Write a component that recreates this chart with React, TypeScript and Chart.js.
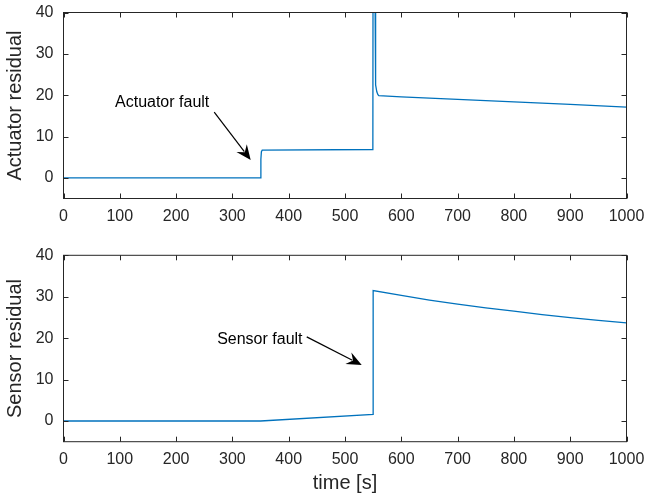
import React, { useEffect, useRef } from "react";
import { Chart, registerables } from "chart.js";
Chart.register(...registerables);

const FONT = '"Liberation Sans", Arial, Helvetica, sans-serif';
const AXIS = "#262626";
const LINE = "#0072BD";

const xTicks = [0, 100, 200, 300, 400, 500, 600, 700, 800, 900, 1000];
const yTicks = [0, 10, 20, 30, 40];

const actTime = [0, 350, 350.6, 351.5, 353, 549.5, 550, 553.3, 553.8, 554.3, 555, 556.5, 558.5, 560, 600, 700, 800, 900, 1000];
const actValue = [0, 0, 4.5, 6.3, 6.7, 6.85, 80, 45, 35, 26, 22.5, 20.8, 20.1, 19.9, 19.6, 19.0, 18.4, 17.75, 17.1];

const sensTime = [0, 350, 550, 550, 600, 650, 700, 750, 800, 850, 900, 950, 1000];
const sensValue = [0, 0, 1.6, 31.5, 30.3, 29.2, 28.2, 27.3, 26.5, 25.7, 24.95, 24.3, 23.7];

const actNote = "Actuator fault";
const actNotePos = [91.5, 18.1];
const actArrow = [[267.7, 15.9], [332.5, 4.3]];

const sensNote = "Sensor fault";
const sensNotePos = [272.9, 19.7];
const sensArrow = [[432, 20.3], [529.7, 13.5]];

function makePlugin(note: string, pos: number[], arrow: number[][]) {
  return {
    id: "boxAndNotes",
    afterDraw(chart: any) {
      const ctx = chart.ctx;
      const { left, right, top, bottom } = chart.chartArea;
      const xs = chart.scales.x;
      const ys = chart.scales.y;
      ctx.save();
      ctx.strokeStyle = AXIS;
      ctx.lineWidth = 1;
      ctx.strokeRect(left, top, right - left, bottom - top);
      const tl = 5;
      ctx.beginPath();
      for (const v of xTicks) {
        const px = Math.round(xs.getPixelForValue(v)) + 0.5;
        ctx.moveTo(px, bottom);
        ctx.lineTo(px, bottom - tl);
        ctx.moveTo(px, top);
        ctx.lineTo(px, top + tl);
      }
      for (const v of yTicks) {
        const py = Math.round(ys.getPixelForValue(v)) + 0.5;
        ctx.moveTo(left, py);
        ctx.lineTo(left + tl, py);
        ctx.moveTo(right, py);
        ctx.lineTo(right - tl, py);
      }
      ctx.stroke();

      // annotation
      ctx.fillStyle = "#000";
      ctx.font = `16px ${FONT}`;
      ctx.textAlign = "left";
      ctx.textBaseline = "middle";
      ctx.fillText(note, xs.getPixelForValue(pos[0]), ys.getPixelForValue(pos[1]));
      const x0 = xs.getPixelForValue(arrow[0][0]);
      const y0 = ys.getPixelForValue(arrow[0][1]);
      const x1 = xs.getPixelForValue(arrow[1][0]);
      const y1 = ys.getPixelForValue(arrow[1][1]);
      const dx = x1 - x0, dy = y1 - y0;
      const len = Math.hypot(dx, dy);
      const ux = dx / len, uy = dy / len;
      const nx = -uy, ny = ux;
      const L = 15, W = 6.5;
      ctx.strokeStyle = "#000";
      ctx.lineWidth = 1.2;
      ctx.beginPath();
      ctx.moveTo(x0, y0);
      ctx.lineTo(x1 - 0.7 * L * ux, y1 - 0.7 * L * uy);
      ctx.stroke();
      ctx.beginPath();
      ctx.moveTo(x1, y1);
      ctx.lineTo(x1 - L * ux + W * nx, y1 - L * uy + W * ny);
      ctx.lineTo(x1 - 0.65 * L * ux, y1 - 0.65 * L * uy);
      ctx.lineTo(x1 - L * ux - W * nx, y1 - L * uy - W * ny);
      ctx.closePath();
      ctx.fill();
      ctx.restore();
    },
  };
}

function makeConfig(
  times: number[],
  values: number[],
  yTitle: string,
  xTitle: string | null,
  padTop: number,
  xHeight: number,
  plugin: any
): any {
  return {
    type: "line",
    data: {
      datasets: [
        {
          data: times.map((t, i) => ({ x: t, y: values[i] })),
          borderColor: LINE,
          borderWidth: 1.3,
          pointRadius: 0,
          tension: 0,
          fill: false,
        },
      ],
    },
    options: {
      responsive: false,
      animation: false,
      events: [],
      layout: { padding: { top: padTop, right: 19.5, left: 0, bottom: 0 } },
      plugins: { legend: { display: false }, tooltip: { enabled: false }, title: { display: false } },
      scales: {
        x: {
          type: "linear",
          min: 0,
          max: 1000,
          grid: { display: false, drawTicks: false },
          border: { display: false },
          afterBuildTicks: (s: any) => {
            s.ticks = xTicks.map((v) => ({ value: v }));
          },
          afterFit: (s: any) => {
            s.height = xHeight;
            s.paddingLeft = 0;
            s.paddingRight = 0;
          },
          ticks: {
            autoSkip: false,
            maxRotation: 0,
            padding: 8.5,
            color: AXIS,
            font: { family: FONT, size: 16 },
            callback: (v: any) => String(v),
          },
          title: xTitle
            ? {
                display: true,
                text: xTitle,
                color: AXIS,
                font: { family: FONT, size: 20 },
                padding: { top: 0, bottom: 2 },
              }
            : { display: false },
        },
        y: {
          type: "linear",
          min: -5,
          max: 40,
          grid: { display: false, drawTicks: false },
          border: { display: false },
          afterBuildTicks: (s: any) => {
            s.ticks = yTicks.map((v) => ({ value: v }));
          },
          afterFit: (s: any) => {
            s.width = 63.5;
            s.paddingTop = 0;
            s.paddingBottom = 0;
          },
          ticks: {
            padding: 10,
            color: AXIS,
            font: { family: FONT, size: 16 },
            callback: (v: any) => String(v),
          },
          title: {
            display: true,
            text: yTitle,
            color: AXIS,
            font: { family: FONT, size: 20 },
            padding: { top: 3, bottom: 0 },
          },
        },
      },
    },
    plugins: [plugin],
  };
}

export default function App() {
  const r1 = useRef<HTMLCanvasElement>(null);
  const r2 = useRef<HTMLCanvasElement>(null);
  useEffect(() => {
    const c1 = new Chart(
      r1.current!,
      makeConfig(actTime, actValue, "Actuator residual", null, 12.5, 37.5, makePlugin(actNote, actNotePos, actArrow))
    );
    const c2 = new Chart(
      r2.current!,
      makeConfig(sensTime, sensValue, "Sensor residual", "time [s]", 19.3, 55.3, makePlugin(sensNote, sensNotePos, sensArrow))
    );
    return () => {
      c1.destroy();
      c2.destroy();
    };
  }, []);
  return (
    <div style={{ position: "absolute", left: 0, top: 0, width: 646, height: 497, background: "#fff" }}>
      <canvas
        ref={r1}
        width={646}
        height={236}
        style={{ position: "absolute", left: 0, top: 0, width: 646, height: 236, display: "block" }}
      />
      <canvas
        ref={r2}
        width={646}
        height={261}
        style={{ position: "absolute", left: 0, top: 236, width: 646, height: 261, display: "block" }}
      />
    </div>
  );
}
